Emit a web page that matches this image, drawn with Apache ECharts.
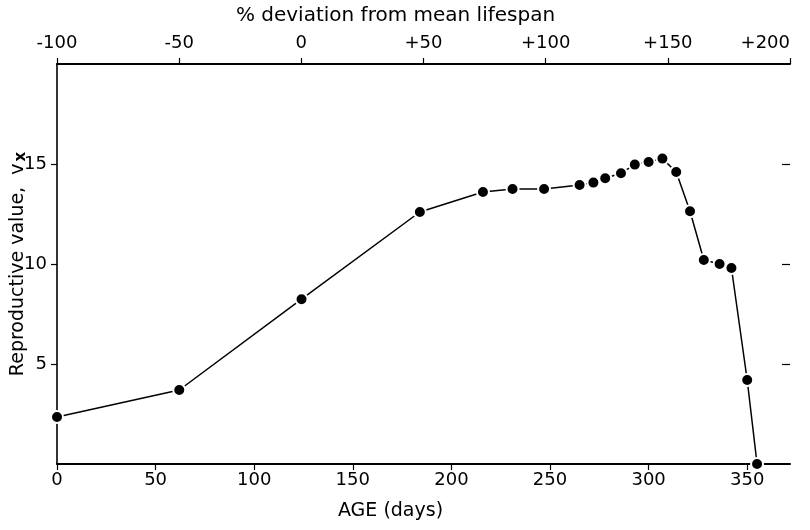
<!DOCTYPE html>
<html>
<head>
<meta charset="utf-8">
<script src="https://cdn.jsdelivr.net/npm/echarts@6/dist/echarts.min.js"></script>
<style>
  html, body { margin: 0; padding: 0; background: #fff; }
  #chart { width: 810px; height: 530px; }
</style>
</head>
<body>
<div id="chart"></div>
<script>
// Age in days at each census point
var ageDays = [0, 62, 124, 184, 216, 231, 247, 265, 272, 278, 286, 293, 300, 307, 314, 321, 328, 336, 342, 350, 355];
// Reproductive value v_x at each age
var reproValue = [2.35, 3.7, 8.24, 12.6, 13.6, 13.75, 13.75, 13.95, 14.07, 14.29, 14.54, 14.97, 15.1, 15.27, 14.6, 12.64, 10.2, 10.0, 9.8, 4.2, 0];

// Tick values
var ageTicks = [0, 50, 100, 150, 200, 250, 300, 350];
var deviationTicks = [-100, -50, 0, 50, 100, 150, 200];
var valueTicks = [5, 10, 15];

var AGE_MAX = 371.7;
var FONT = 'DejaVu Sans';

var points = ageDays.map(function (d, i) { return [d, reproValue[i]]; });

var chart = echarts.init(document.getElementById('chart'), null, { renderer: 'canvas' });

chart.setOption({
  backgroundColor: '#ffffff',
  animation: false,
  grid: { left: 57, right: 20, top: 64, bottom: 66, containLabel: false, outerBoundsMode: 'none' },
  xAxis: [
    {
      type: 'value',
      position: 'bottom',
      min: 0,
      max: AGE_MAX,
      name: 'AGE (days)',
      nameLocation: 'middle',
      nameGap: 38,
      nameMoveOverlap: false,
      nameTextStyle: { fontFamily: FONT, fontSize: 19, color: '#000', padding: [0, 66, 0, 0] },
      axisLine: { show: true, onZero: false, lineStyle: { color: '#000', width: 2 } },
      axisTick: { show: true, inside: false, length: 6, customValues: ageTicks, lineStyle: { color: '#000', width: 1.2 } },
      axisLabel: { customValues: ageTicks, margin: 7, fontFamily: FONT, fontSize: 18, color: '#000' },
      splitLine: { show: false }
    },
    {
      type: 'value',
      position: 'top',
      min: -100,
      max: 200,
      interval: 50,
      name: '% deviation from mean lifespan',
      nameLocation: 'middle',
      nameGap: 38,
      nameMoveOverlap: false,
      nameTextStyle: { fontFamily: FONT, fontSize: 20, color: '#000', padding: [0, 56, 0, 0] },
      axisLine: { show: true, onZero: false, lineStyle: { color: '#000', width: 2 } },
      axisTick: { show: true, inside: false, length: 6, customValues: deviationTicks, lineStyle: { color: '#000', width: 1.2 } },
      axisLabel: {
        customValues: deviationTicks,
        margin: 12,
        fontFamily: FONT,
        fontSize: 18,
        color: '#000',
        alignMaxLabel: 'right',
        formatter: function (v) { return v > 0 ? '+' + v : String(v); }
      },
      splitLine: { show: false }
    }
  ],
  yAxis: [
    {
      type: 'value',
      position: 'left',
      min: 0,
      max: 20,
      name: 'Reproductive value,  v{sub|x}',
      nameLocation: 'middle',
      nameGap: 28,
      nameMoveOverlap: false,
      nameRotate: 90,
      nameTextStyle: {
        fontFamily: FONT, fontSize: 19, color: '#000',
        rich: { sub: { fontFamily: FONT, fontSize: 15, fontWeight: 'bold', color: '#000', padding: [6, 0, 0, 2] } }
      },
      axisLine: { show: true, onZero: false, lineStyle: { color: '#000', width: 1.6 } },
      axisTick: { show: true, inside: false, length: 6, customValues: valueTicks, lineStyle: { color: '#000', width: 1.2 } },
      axisLabel: { customValues: valueTicks, margin: 10, fontFamily: FONT, fontSize: 18, color: '#000' },
      splitLine: { show: false }
    },
    {
      type: 'value',
      position: 'right',
      min: 0,
      max: 20,
      axisLine: { show: false, onZero: false },
      axisTick: { show: true, inside: true, length: 8, customValues: valueTicks, lineStyle: { color: '#000', width: 1.2 } },
      axisLabel: { show: false },
      splitLine: { show: false }
    }
  ],
  series: [
    {
      type: 'line',
      xAxisIndex: 0,
      yAxisIndex: 0,
      data: points,
      clip: false,
      symbol: 'circle',
      symbolSize: 12,
      itemStyle: { color: '#000', borderColor: '#fff', borderWidth: 2 },
      lineStyle: { color: '#000', width: 1.5 },
      z: 5
    }
  ]
});
</script>
</body>
</html>
